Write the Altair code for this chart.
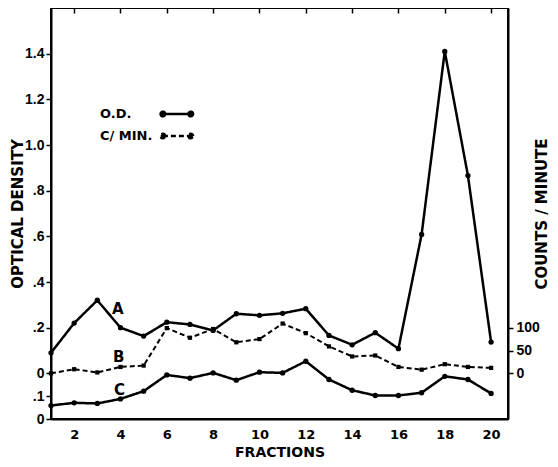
import altair as alt
import pandas as pd

fractions = list(range(1, 21))
od_a = [0.09, 0.22, 0.32, 0.20, 0.163, 0.224, 0.214, 0.188, 0.261, 0.254,
        0.263, 0.283, 0.166, 0.125, 0.178, 0.108, 0.608, 1.41, 0.866, 0.137]
od_c = [0.059, 0.071, 0.068, 0.088, 0.122, 0.193, 0.179, 0.202, 0.17, 0.205,
        0.202, 0.253, 0.173, 0.126, 0.103, 0.103, 0.115, 0.187, 0.173, 0.112]
cpm_b = [0, 9, 2, 14, 17, 99, 78, 97, 68, 75,
         109, 88, 59, 37, 39, 14, 8, 20, 14, 12]
c_offset = 0.2  # curve C drawn on the lower, offset O.D. scale

curve_names = ["A", "B", "C"]
curve_label_x = [3.88, 3.92, 3.96]
curve_label_y = [0.283, 0.072, -0.073]

x_ticks = list(range(2, 21, 2))
left_ticks = [-0.2, -0.1, 0, 0.2, 0.4, 0.6, 0.8, 1.0, 1.2, 1.4]
right_ticks = [0, 50, 100]

FONT = "DejaVu Sans"
FONT_NUM = "Liberation Sans"

df_left = pd.DataFrame({
    "fraction": fractions * 2,
    "y": od_a + [v - c_offset for v in od_c],
    "curve": ["A"] * 20 + ["C"] * 20,
    "key": ["O.D."] * 40,
})
df_right = pd.DataFrame({"fraction": fractions, "cpm": cpm_b, "key": ["C/ MIN."] * 20})
df_lab = pd.DataFrame({"fraction": curve_label_x, "y": curve_label_y, "name": curve_names})

x_enc = alt.X("fraction:Q", scale=alt.Scale(domain=[1, 20.73], nice=False, zero=False),
              axis=alt.Axis(values=x_ticks, title="FRACTIONS", ticks=False,
                            grid=True, gridColor="black", gridWidth=1.5, gridDash=[5, 2000],
                            labelPadding=9, titleFontSize=14,
                            titleY=37, titleBaseline="alphabetic"))

y_left = alt.Y("y:Q", scale=alt.Scale(domain=[-0.2, 1.6], nice=False, zero=False),
               axis=alt.Axis(values=left_ticks, title="OPTICAL DENSITY", grid=False,
                             labelExpr="datum.value < -0.15 ? '0' : datum.value < -0.05 ? '.1' : "
                                       "datum.value < 0.05 ? '0' : datum.value < 0.99 ? "
                                       "replace(format(datum.value, '.1f'), '0.', '.') : format(datum.value, '.1f')",
                             labelFont=FONT_NUM, labelFontSize=14,
                             tickSize=5, tickWidth=1.5, labelPadding=2,
                             titleFontSize=15, titleX=-34, titleBaseline="middle"))

dash_scale = alt.Scale(domain=["O.D.", "C/ MIN."], range=[[1, 0], [5, 3]])
legend_path = ("M9.8,0L13.4,0M10.1,0A0.3,0.3,0,1,0,9.5,0A0.3,0.3,0,1,0,10.1,0Z"
               "M13.7,0A0.3,0.3,0,1,0,13.1,0A0.3,0.3,0,1,0,13.7,0Z")
legend = alt.Legend(title=None, orient="none", legendX=27, legendY=97,
                    symbolType=legend_path, symbolSize=240, symbolStrokeColor="black",
                    symbolFillColor="black", symbolStrokeWidth=2.5,
                    labelOffset=4, rowPadding=5,
                    labelFont=FONT, labelFontWeight="bold", labelFontSize=13)

line_left = alt.Chart(df_left).mark_line(color="black", strokeWidth=2.5).encode(
    x=x_enc, y=y_left, detail="curve:N",
    strokeDash=alt.StrokeDash("key:N", scale=dash_scale, legend=legend))
pts_left = alt.Chart(df_left).mark_circle(color="black", size=28, opacity=1).encode(
    x="fraction:Q", y="y:Q")
labels = alt.Chart(df_lab).mark_text(font=FONT, fontWeight="bold", fontSize=15, color="black").encode(
    x="fraction:Q", y="y:Q", text="name:N")

left = alt.layer(line_left, pts_left, labels)

y_right = alt.Y("cpm:Q", scale=alt.Scale(domain=[-100, 800], nice=False, zero=False),
                axis=alt.Axis(orient="right", values=right_ticks, title="COUNTS / MINUTE",
                              grid=False, tickSize=5, tickWidth=1.5, labelPadding=3,
                              labelFont=FONT_NUM, labelFontSize=14,
                              titleAngle=270, titleFontSize=15,
                              titleX=33, titleBaseline="middle"))
line_right = alt.Chart(df_right).mark_line(color="black", strokeWidth=2).encode(
    x="fraction:Q", y=y_right,
    strokeDash=alt.StrokeDash("key:N", scale=dash_scale, legend=legend))
pts_right = alt.Chart(df_right).mark_square(color="black", size=18, opacity=1).encode(
    x="fraction:Q", y="cpm:Q")
right = alt.layer(line_right, pts_right)

chart = alt.layer(left, right).resolve_scale(y="independent").properties(
    width=457, height=411,
    autosize=alt.AutoSizeParams(type="none"),
    padding={"left": 43, "top": 0, "right": 42, "bottom": 40}
).configure_view(stroke="black", strokeWidth=2).configure_axis(
    domainColor="black", domainWidth=2, tickColor="black",
    labelFont=FONT, labelFontWeight="bold", labelFontSize=13, labelColor="black",
    titleFont=FONT, titleFontWeight="bold", titleColor="black"
)

chart.save("out.html", embed_options={"renderer": "svg", "actions": False})
